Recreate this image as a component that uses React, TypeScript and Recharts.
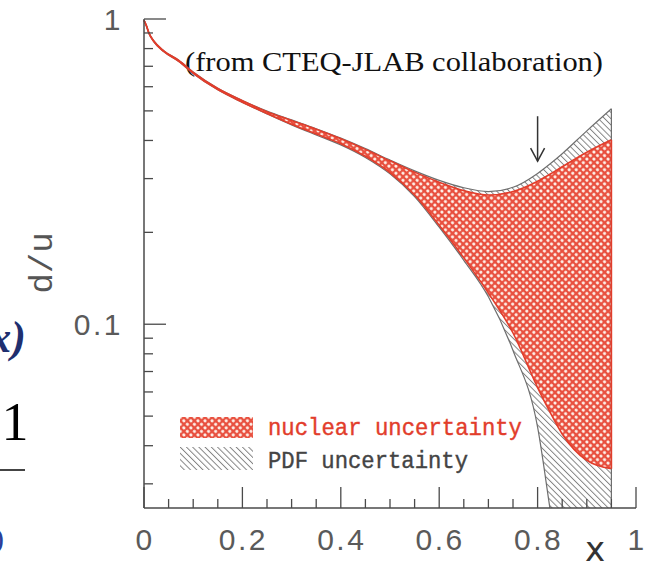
import React from "react";
import { Area, ComposedChart, ReferenceDot, ReferenceLine, XAxis, YAxis } from "recharts";

// d/u ratio bands vs x (CTEQ-JLAB)
const xs = [0, 0.005, 0.01, 0.02, 0.04, 0.07, 0.1, 0.15, 0.2, 0.25, 0.3, 0.35, 0.4, 0.45, 0.5, 0.55, 0.6, 0.65, 0.7, 0.75, 0.8, 0.825, 0.85, 0.9, 0.95];
const pdfHigh = [0.99, 0.95, 0.902, 0.848, 0.788, 0.734, 0.67, 0.593, 0.541, 0.499, 0.467, 0.437, 0.407, 0.376, 0.345, 0.318, 0.296, 0.28, 0.272, 0.281, 0.312, 0.335, 0.362, 0.43, 0.508];
const pdfLow = [0.99, 0.947, 0.897, 0.842, 0.782, 0.727, 0.663, 0.586, 0.533, 0.489, 0.45, 0.417, 0.387, 0.352, 0.311, 0.262, 0.208, 0.162, 0.123, 0.082, 0.046, 0.025, 0.0135, 0.006, 0.0028];
const nucHigh = [0.99, 0.95, 0.901, 0.847, 0.787, 0.733, 0.669, 0.592, 0.54, 0.497, 0.465, 0.435, 0.405, 0.374, 0.343, 0.315, 0.292, 0.274, 0.265, 0.272, 0.294, 0.31, 0.328, 0.366, 0.402];
const nucLow = [0.99, 0.948, 0.898, 0.843, 0.783, 0.728, 0.664, 0.587, 0.534, 0.49, 0.452, 0.42, 0.3905, 0.355, 0.314, 0.265, 0.211, 0.165, 0.1265, 0.0936, 0.062, 0.0516, 0.0437, 0.0358, 0.0336];

const xTicks = [0, 0.05, 0.1, 0.15, 0.2, 0.25, 0.3, 0.35, 0.4, 0.45, 0.5, 0.55, 0.6, 0.65, 0.7, 0.75, 0.8, 0.85, 0.9, 0.95, 1];
const xMajor = [0, 0.2, 0.4, 0.6, 0.8, 1];
const yTicks = [0.03, 0.04, 0.05, 0.06, 0.07, 0.08, 0.09, 0.1, 0.2, 0.3, 0.4, 0.5, 0.6, 0.7, 0.8, 0.9, 1];
const yMajor = [0.1, 1];
const yDomain = [0.025, 1];

const arrowX = 0.8;
const arrowTip = 0.342;

const title = "(from CTEQ-JLAB collaboration)";
const legendLabels = ["nuclear uncertainty", "PDF uncertainty"];

const rows = xs.map((x, i) => ({
  x,
  pdf: [pdfLow[i], pdfHigh[i]],
  nuc: [nucLow[i], nucHigh[i]],
}));
const last = xs.length - 1;

const FRAME = "#4a4a4a";
const RED = "#e23d2b";
const GREY = "#6e6e6e";
const TICK_FONT = { fontFamily: "Liberation Sans", fontSize: 30, fill: "#5a5a5a", letterSpacing: 2.5 } as const;

const isMajor = (v: number, majors: number[]) => majors.some((m) => Math.abs(m - v) < 1e-9);

function BottomTick({ x, y, payload }: any) {
  const major = isMajor(payload.value, xMajor);
  return (
    <g>
      <line x1={x} x2={x} y1={y} y2={y - (major ? 21 : 9)} stroke={FRAME} strokeWidth={1.3} />
      {major && (
        <text x={x + 1} y={y + 42} textAnchor="middle" {...TICK_FONT}>
          {String(payload.value)}
        </text>
      )}
    </g>
  );
}

function TopTick({ x, y, payload }: any) {
  const major = isMajor(payload.value, xMajor);
  return <line x1={x} x2={x} y1={y} y2={y + (major ? 21 : 8)} stroke={FRAME} strokeWidth={1.3} />;
}

function LeftTick({ x, y, payload }: any) {
  const major = isMajor(payload.value, yMajor);
  return (
    <g>
      <line x1={x} x2={x + (major ? 22 : 9)} y1={y} y2={y} stroke={FRAME} strokeWidth={1.3} />
      {major && (
        <text x={x - 21} y={y + 11} textAnchor="end" {...TICK_FONT}>
          {String(payload.value)}
        </text>
      )}
    </g>
  );
}

function RightTick({ x, y, payload }: any) {
  const major = isMajor(payload.value, yMajor);
  return <line x1={x} x2={x - (major ? 22 : 10)} y1={y} y2={y} stroke={FRAME} strokeWidth={1.3} />;
}

function DownArrow({ cx, cy }: any) {
  return (
    <g stroke="#333" strokeWidth={1.5} fill="none">
      <line x1={cx} x2={cx} y1={cy - 45} y2={cy} />
      <polyline points={`${cx - 7},${cy - 13} ${cx},${cy} ${cx + 7},${cy - 13}`} />
    </g>
  );
}

export default function App() {
  return (
    <div style={{ position: "absolute", left: 0, top: 0, width: 654, height: 570, background: "#fff" }}>
      <ComposedChart width={654} height={570} data={rows} margin={{ top: 19, right: 18, bottom: 0, left: 0 }}>
        <defs>
          <pattern id="nucFill" width={5} height={5} patternUnits="userSpaceOnUse" patternTransform="rotate(45)">
            <rect width={5} height={5} fill="#e8503f" />
            <circle cx={2.5} cy={2.5} r={1.55} fill="#fff7f0" />
          </pattern>
          <pattern id="pdfFill" width={4.4} height={4.4} patternUnits="userSpaceOnUse" patternTransform="rotate(-45)">
            <rect width={4.4} height={4.4} fill="#fff" />
            <line x1={0.5} x2={0.5} y1={0} y2={4.4} stroke="#7a7a7a" strokeWidth={0.9} />
          </pattern>
        </defs>

        <XAxis
          dataKey="x"
          type="number"
          domain={[0, 1]}
          ticks={xTicks}
          interval={0}
          height={62}
          tickSize={0}
          tickMargin={0}
          tickLine={false}
          axisLine={{ stroke: FRAME, strokeWidth: 1.5 }}
          tick={(p: any) => <BottomTick {...p} />}
          label={{
            content: () => (
              <text x={595} y={561} textAnchor="middle" fontFamily="DejaVu Sans" fontSize={34} fill="#333">
                x
              </text>
            ),
          }}
        />
        <XAxis
          xAxisId="top"
          orientation="top"
          dataKey="x"
          type="number"
          domain={[0, 1]}
          ticks={xTicks}
          interval={0}
          height={0}
          tickSize={0}
          tickMargin={0}
          tickLine={false}
          axisLine={{ stroke: FRAME, strokeWidth: 1.5 }}
          tick={(p: any) => <TopTick {...p} />}
        />
        <YAxis
          type="number"
          scale="log"
          domain={yDomain}
          allowDataOverflow
          ticks={yTicks}
          interval={0}
          width={144}
          tickSize={0}
          tickMargin={0}
          tickLine={false}
          axisLine={{ stroke: FRAME, strokeWidth: 1.5 }}
          tick={(p: any) => <LeftTick {...p} />}
          label={{
            content: () => (
              <text
                x={52}
                y={263}
                transform="rotate(-90 52 263)"
                textAnchor="middle"
                fontFamily="Liberation Mono"
                fontSize={34}
                fill="#555"
              >
                d/u
              </text>
            ),
          }}
        />
        <YAxis
          yAxisId="right"
          orientation="right"
          type="number"
          scale="log"
          domain={yDomain}
          allowDataOverflow
          ticks={yTicks}
          interval={0}
          width={0}
          tickSize={0}
          tickMargin={0}
          tickLine={false}
          axisLine={{ stroke: FRAME, strokeWidth: 1.5 }}
          tick={(p: any) => <RightTick {...p} />}
        />

        <Area
          dataKey="pdf"
          type="monotone"
          fill="url(#pdfFill)"
          fillOpacity={1}
          stroke={GREY}
          strokeWidth={1.2}
          isAnimationActive={false}
        />
        <Area
          dataKey="nuc"
          type="monotone"
          fill="url(#nucFill)"
          fillOpacity={1}
          stroke={RED}
          strokeWidth={1.6}
          isAnimationActive={false}
        />
        <ReferenceLine
          segment={[
            { x: xs[last], y: yDomain[0] },
            { x: xs[last], y: pdfHigh[last] },
          ]}
          stroke={GREY}
          strokeWidth={1.2}
        />
        <ReferenceLine
          segment={[
            { x: xs[last], y: nucLow[last] },
            { x: xs[last], y: nucHigh[last] },
          ]}
          stroke={RED}
          strokeWidth={1.6}
        />
        <ReferenceDot x={arrowX} y={arrowTip} shape={(p: any) => <DownArrow {...p} />} />

        <text x={185} y={71} fontFamily="Liberation Serif" fontSize={27} fill="#111" textLength={418} lengthAdjust="spacingAndGlyphs">
          {title}
        </text>

        <g>
          <rect x={180} y={417} width={73} height={21} fill="url(#nucFill)" />
          <text x={268} y={435} fontFamily="Liberation Mono" fontSize={24} fill={RED} textLength={254} lengthAdjust="spacingAndGlyphs" stroke={RED} strokeWidth={0.4}>
            {legendLabels[0]}
          </text>
          <rect x={180} y={447} width={73} height={23} fill="url(#pdfFill)" />
          <text x={268} y={468} fontFamily="Liberation Mono" fontSize={24} fill="#444" textLength={200} lengthAdjust="spacingAndGlyphs" stroke="#444" strokeWidth={0.4}>
            {legendLabels[1]}
          </text>
        </g>

        <g>
          <text x={26} y={352} textAnchor="end" fontFamily="Liberation Serif" fontStyle="italic" fontWeight="bold" fontSize={44} fill="#1f2f6f">
            x)
          </text>
          <text x={15} y={440} textAnchor="middle" fontFamily="Liberation Serif" fontSize={54} fill="#000">
            1
          </text>
          <line x1={0} x2={25} y1={470} y2={470} stroke="#444" strokeWidth={2} />
          <text x={4} y={548} textAnchor="end" fontFamily="Liberation Serif" fontSize={30} fill="#2a3f9a">
            )
          </text>
        </g>
      </ComposedChart>
    </div>
  );
}
